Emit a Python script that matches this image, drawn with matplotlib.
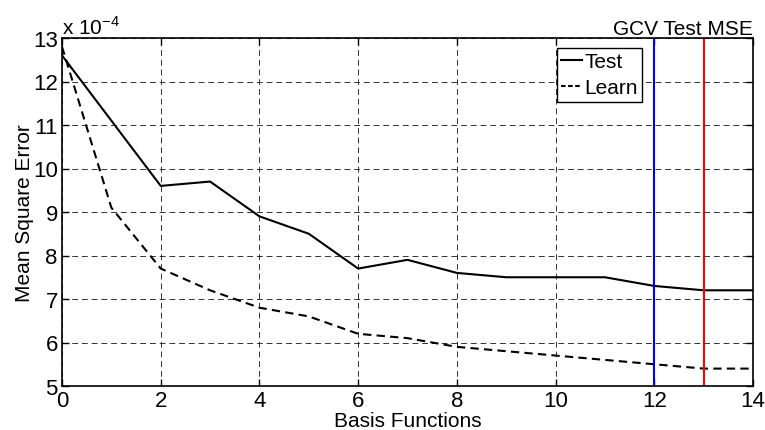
import numpy as np
import matplotlib
matplotlib.use("Agg")
import matplotlib.pyplot as plt

plt.rcParams['font.family'] = ['Liberation Sans', 'DejaVu Sans']

# basis functions on the x axis
basis = np.arange(0, 15)

# MSE values, in units of 1e-4
test_mse = [12.6, 11.1, 9.6, 9.7, 8.9, 8.5, 7.7, 7.9, 7.6, 7.5, 7.5, 7.5, 7.3, 7.2, 7.2]
learn_mse = [12.8, 9.1, 7.7, 7.2, 6.8, 6.6, 6.2, 6.1, 5.9, 5.8, 5.7, 5.6, 5.5, 5.4, 5.4]

gcv_pick = 12
test_pick = 13

fig = plt.figure(figsize=(7.65, 4.31), dpi=100)
ax = fig.add_axes([62 / 765, 1 - 387 / 431, (753 - 62) / 765, (387 - 39) / 431])

ax.plot(basis, test_mse, color='black', lw=1.5, ls='-', label='Test')
ax.plot(basis, learn_mse, color='black', lw=1.5, ls=(0, (4, 2.5)), label='Learn')

ax.axvline(gcv_pick, color='blue', lw=1.5)
ax.axvline(test_pick, color='red', lw=1.5)

ax.set_xlim(0, 14)
ax.set_ylim(5, 13)
ax.set_xticks(np.arange(0, 15, 2))
ax.set_yticks(np.arange(5, 14, 1))
ax.grid(True, color='black', ls=(0, (6, 4)), lw=0.7, alpha=0.8)
ax.tick_params(direction='in', labelsize=16, length=5, width=1, top=True, right=True, pad=3)
for s in ax.spines.values():
    s.set_linewidth(1.2)

ax.set_xlabel('Basis Functions', fontsize=15, labelpad=0)
ax.set_ylabel('Mean Square Error', fontsize=15, labelpad=-1)

ax.text(0.0, 1.0, r'x 10$^{\mathregular{-4}}$', transform=ax.transAxes, fontsize=15,
        ha='left', va='bottom')
ax.text(1.0, 1.0, 'GCV Test MSE', transform=ax.transAxes, fontsize=15,
        ha='right', va='bottom')

leg = ax.legend(loc='upper left', bbox_to_anchor=((557 - 62) / 691, 1 - (49 - 39) / 348),
                fontsize=15, handlelength=1.0, handletextpad=0.1, borderpad=0.2,
                labelspacing=0.35, fancybox=False, framealpha=1, borderaxespad=0)
leg.get_frame().set_edgecolor('black')
leg.get_frame().set_linewidth(1.0)
# shorter dashes in the legend so three fit in the handle
leg.get_lines()[1].set_linestyle((0, (2.2, 1.2)))

fig.savefig('out.png', dpi=100)
